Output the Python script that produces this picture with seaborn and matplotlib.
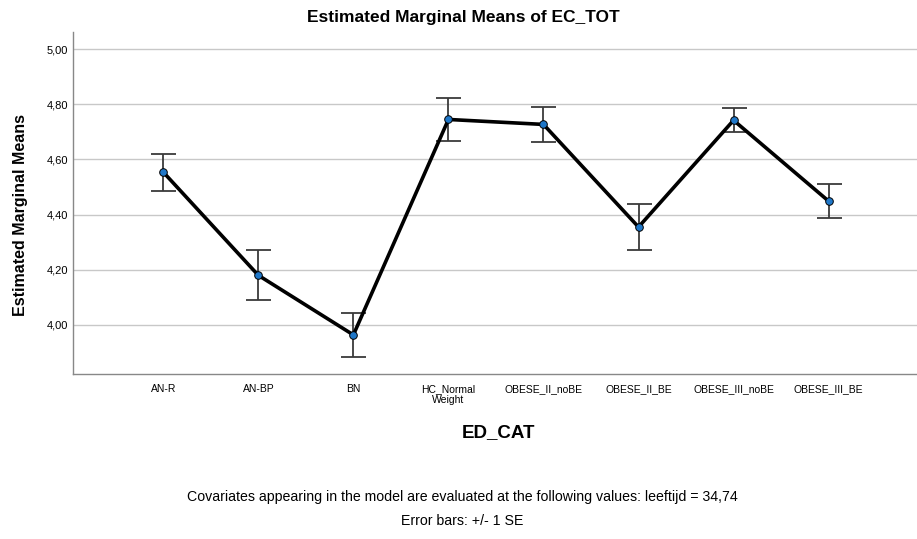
import numpy as np
import pandas as pd
import matplotlib
matplotlib.use("Agg")
import matplotlib.pyplot as plt
from matplotlib.ticker import FuncFormatter
import seaborn as sns

categories = ["AN-R", "AN-BP", "BN", "HC_Normal\nWeight", "OBESE_II_noBE",
              "OBESE_II_BE", "OBESE_III_noBE", "OBESE_III_BE"]
means = [4.554, 4.180, 3.964, 4.745, 4.727, 4.355, 4.742, 4.449]
se = [0.067, 0.090, 0.079, 0.079, 0.064, 0.085, 0.043, 0.062]
y_ticks = [4.0, 4.2, 4.4, 4.6, 4.8, 5.0]

sns.set_theme(style="white", rc={"text.color": "black", "xtick.color": "black",
                                 "ytick.color": "black", "axes.labelcolor": "black"})
plt.rcParams["font.family"] = ["Liberation Sans", "DejaVu Sans"]

df = pd.DataFrame({"ED_CAT": categories, "mean": means, "se": se})

fig = plt.figure(figsize=(9.17, 5.39), dpi=100)
ax = fig.add_axes([0.0796, 0.306, 0.9204, 0.6346])

# foutbalken (+/- 1 SE)
ax.errorbar(np.arange(len(df)), df["mean"], yerr=df["se"], fmt="none",
            ecolor="#3a3a3a", elinewidth=1.3, capsize=9, capthick=1.3, zorder=2)

sns.pointplot(data=df, x="ED_CAT", y="mean", color="black", errorbar=None,
              linewidth=2.6, markers="", ax=ax, zorder=3)
sns.scatterplot(x=np.arange(len(df)), y=df["mean"], ax=ax, s=30,
                color="#1f77c8", edgecolor="black", linewidth=0.7, zorder=4)

ax.set_xlim(-0.95, 7.93)
ax.set_ylim(3.822, 5.062)
ax.set_yticks(y_ticks)
ax.yaxis.set_major_formatter(FuncFormatter(lambda v, p: f"{v:.2f}".replace(".", ",")))
ax.yaxis.grid(True, color="#c8c8c8", linewidth=1.0)
ax.set_axisbelow(True)

for side in ["top", "right"]:
    ax.spines[side].set_visible(False)
for side in ["left", "bottom"]:
    ax.spines[side].set_color("#888888")
    ax.spines[side].set_linewidth(1.0)

ax.tick_params(axis="both", length=0)
ax.tick_params(axis="x", pad=7)
ax.set_xticks(np.arange(len(categories)))
ax.set_xticklabels(categories, fontsize=7.5, linespacing=1.2)
for lab in ax.get_yticklabels():
    lab.set_fontsize(8)

ax.set_xlabel("")
ax.set_ylabel("")

fig.text(0.505, 0.968, "Estimated Marginal Means of EC_TOT", ha="center", va="center",
         fontsize=12.5, fontweight="bold")
fig.text(0.022, 0.601, "Estimated Marginal Means", ha="center", va="center",
         rotation=90, fontsize=11.5, fontweight="bold")
fig.text(0.544, 0.197, "ED_CAT", ha="center", va="center", fontsize=13.5,
         fontweight="bold")
fig.text(0.504, 0.078, "Covariates appearing in the model are evaluated at the following values: leeftijd = 34,74",
         ha="center", va="center", fontsize=10.2)
fig.text(0.504, 0.033, "Error bars: +/- 1 SE", ha="center", va="center",
         fontsize=10.2)

fig.savefig("out.png", dpi=100)
